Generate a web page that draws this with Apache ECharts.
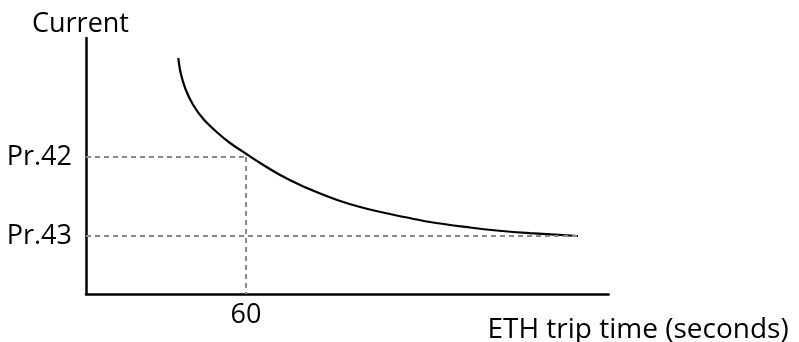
<!DOCTYPE html>
<html>
<head>
<meta charset="utf-8">
<script src="https://cdn.jsdelivr.net/npm/echarts@6/dist/echarts.min.js"></script>
<style>
  html, body { margin: 0; padding: 0; background: #fff; }
  #chart { width: 799px; height: 342px; }
</style>
</head>
<body>
<div id="chart"></div>
<script>
// trip time (x) vs current (y)
const tripTime = [34.6, 35.5, 37.3, 40.2, 44, 49, 54, 59.6, 65.3, 72.8, 80.3, 87.8, 95.3, 102.8, 114, 129, 144, 154, 166.5, 184.5];
const current = [236, 221, 205, 189, 175, 162, 151, 141, 131, 119, 109, 100.5, 93, 87, 80, 72, 66.5, 63.5, 60.8, 58];

const yTickValues = [58, 137];
const yTickLabels = ['Pr.43', 'Pr.42'];
const xTickValues = [60];
const xTickLabels = ['60'];

const xMax = 196;
const yMax = 256;

const FONT = 'Open Sans';

const chart = echarts.init(document.getElementById('chart'));

const curve = tripTime.map((t, i) => [t, current[i]]);
const lastT = tripTime[tripTime.length - 1];

const option = {
  animation: false,
  grid: {
    left: 86,
    top: 38,
    width: 522.67,
    height: 256,
    containLabel: false,
    outerBoundsMode: 'none'
  },
  xAxis: {
    type: 'value',
    min: 0,
    max: xMax,
    name: 'ETH trip time (seconds)',
    nameLocation: 'end',
    nameGap: 180,
    nameTextStyle: {
      fontFamily: FONT,
      fontSize: 28,
      color: '#000',
      align: 'right',
      verticalAlign: 'top',
      padding: [22, 0, 0, 0]
    },
    axisLine: { show: true, lineStyle: { color: '#000', width: 2.5 } },
    axisTick: { show: false },
    splitLine: { show: false },
    axisLabel: {
      customValues: xTickValues,
      formatter: v => xTickLabels[xTickValues.indexOf(v)] || '',
      fontFamily: FONT,
      fontSize: 27,
      color: '#000',
      margin: 8
    }
  },
  yAxis: {
    type: 'value',
    min: 0,
    max: yMax,
    name: 'Current',
    nameLocation: 'end',
    nameGap: 0,
    nameTextStyle: {
      fontFamily: FONT,
      fontSize: 27,
      color: '#000',
      align: 'center',
      verticalAlign: 'bottom',
      padding: [0, 11, 0, 0]
    },
    axisLine: { show: true, lineStyle: { color: '#000', width: 2.5 } },
    axisTick: { show: false },
    splitLine: { show: false },
    axisLabel: {
      customValues: yTickValues,
      formatter: v => yTickLabels[yTickValues.indexOf(v)] || '',
      fontFamily: FONT,
      fontSize: 27,
      color: '#000',
      margin: 14
    }
  },
  series: [
    {
      type: 'line',
      data: [],
      z: 1,
      silent: true,
      markLine: {
        silent: true,
        symbol: 'none',
        label: { show: false },
        lineStyle: { color: '#8a8a8a', width: 2, type: [5, 4] },
        data: [
          [{ coord: [0, yTickValues[1]] }, { coord: [xTickValues[0], yTickValues[1]] }],
          [{ coord: [xTickValues[0], yTickValues[1]] }, { coord: [xTickValues[0], 0] }],
          [{ coord: [0, yTickValues[0]] }, { coord: [lastT, yTickValues[0]] }]
        ]
      }
    },
    {
      type: 'line',
      data: curve,
      z: 3,
      smooth: 0.3,
      showSymbol: false,
      lineStyle: { color: '#000', width: 2.2 }
    }
  ]
};

chart.setOption(option);
</script>
</body>
</html>
